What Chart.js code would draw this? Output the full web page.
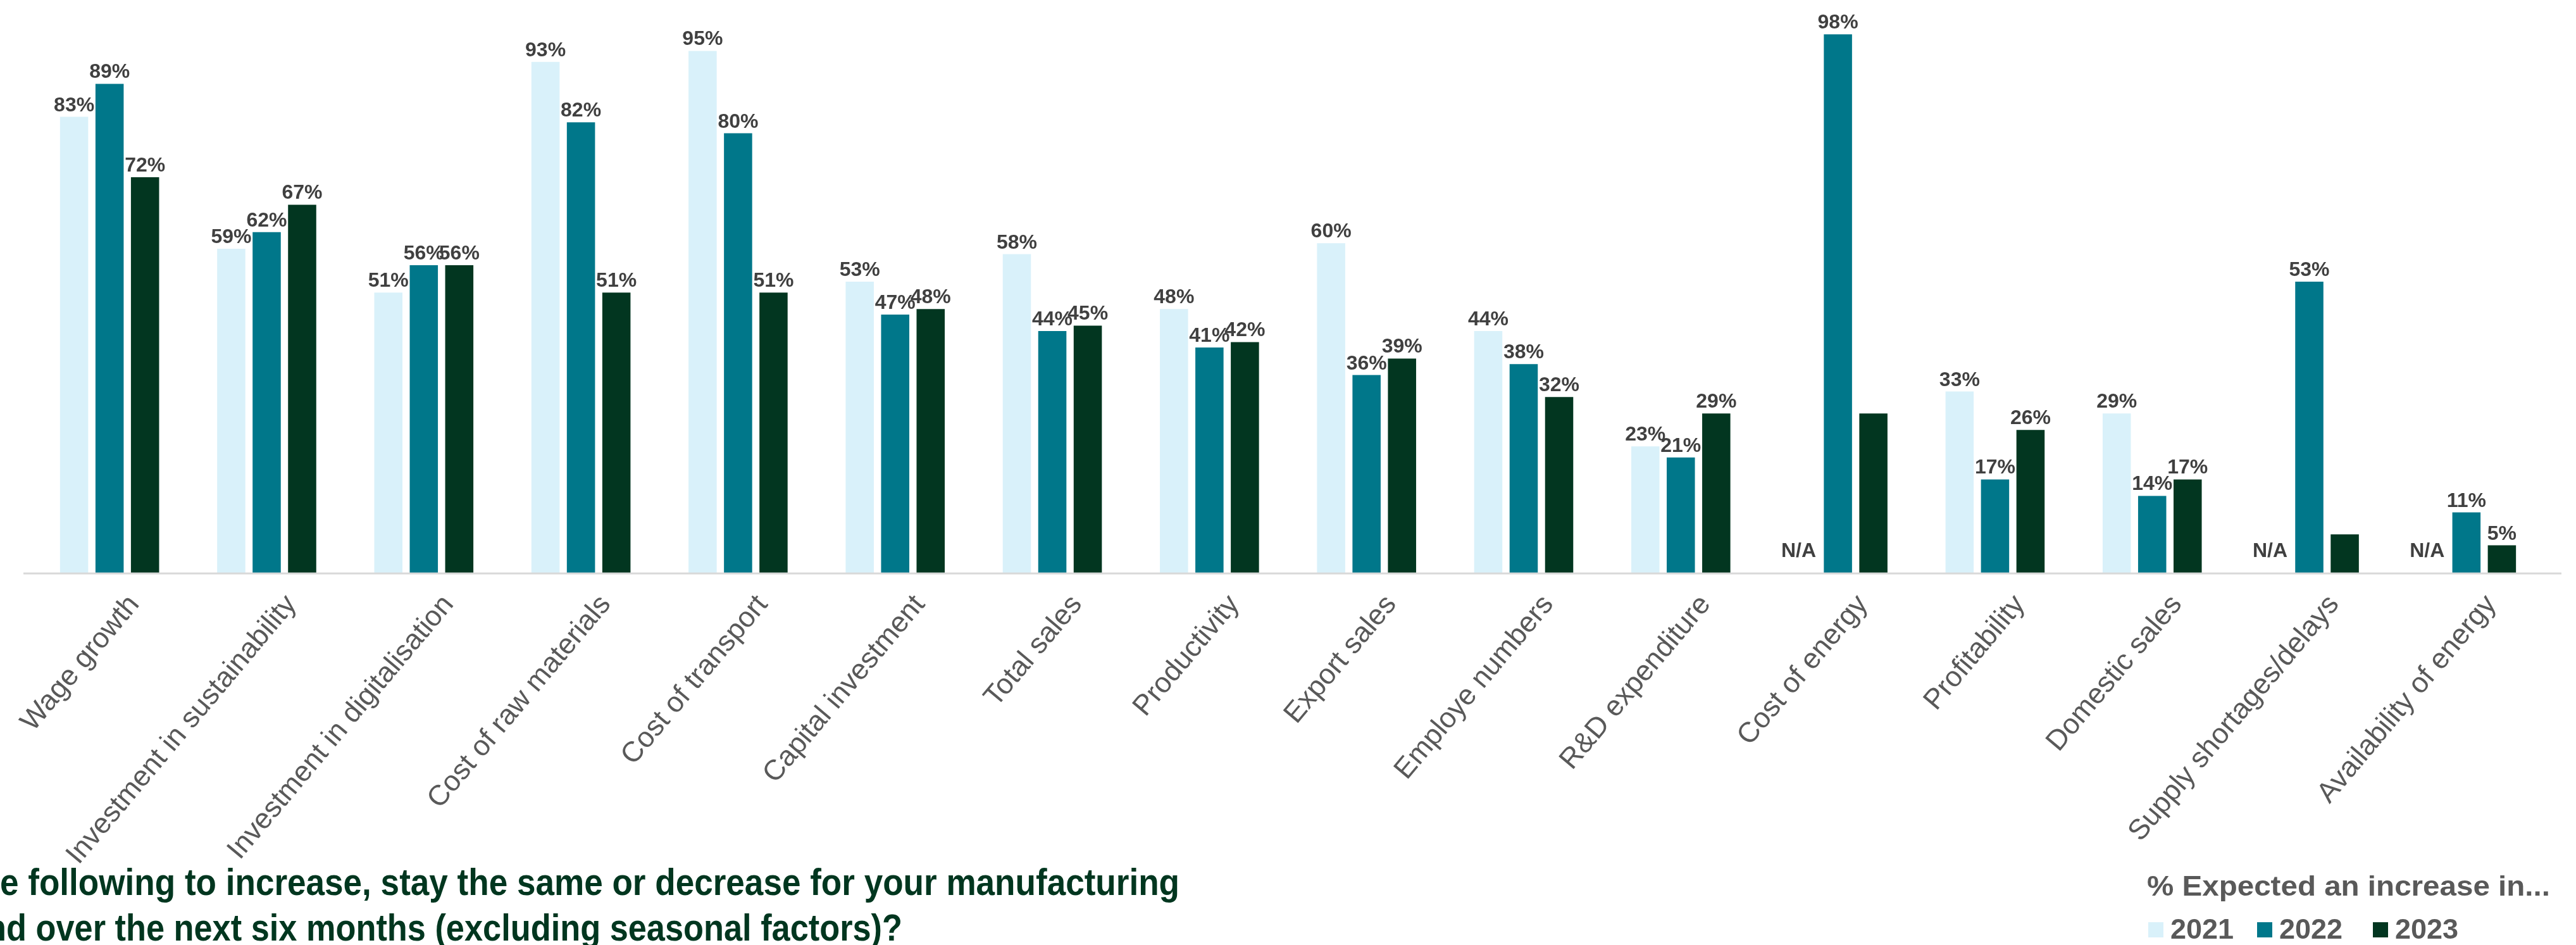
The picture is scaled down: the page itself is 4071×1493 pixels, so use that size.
<!DOCTYPE html>
<html>
<head>
<meta charset="utf-8">
<script src="https://cdn.jsdelivr.net/npm/chart.js@4.4.0/dist/chart.umd.min.js"></script>
<style>
  html, body { margin: 0; padding: 0; background: #fff; }
  #wrap { position: relative; width: 4071px; height: 1493px; overflow: hidden; }
  #chart { position: absolute; left: 0; top: 0; }
  .txt { position: absolute; white-space: nowrap; font-family: 'Liberation Sans', Arial, sans-serif;
         font-weight: bold; line-height: 1; transform-origin: 0 0; }
  .title { color: #00361f; font-size: 60px; }
  .legend { color: #595959; font-size: 45px; }
  .swatch { position: absolute; width: 24px; height: 24px; }
</style>
</head>
<body>
<div id="wrap">
  <canvas id="chart" width="4071" height="1493"></canvas>
  <div class="txt title" data-w="1864" style="left:0px; top:1364px;">e following to increase, stay the same or decrease for your manufacturing</div>
  <div class="txt title" data-w="1448" style="left:-22px; top:1436px;">nd over the next six months (excluding seasonal factors)?</div>
  <div class="txt legend" data-w="637" style="left:3393px; top:1377px;">% Expected an increase in...</div>
  <div id="legendRow"></div>
</div>
<script>
// categories and values (null = N/A)
const categories = ['Wage growth', 'Investment in sustainability', 'Investment in digitalisation',
  'Cost of raw materials', 'Cost of transport', 'Capital investment', 'Total sales', 'Productivity',
  'Export sales', 'Employe numbers', 'R&D expenditure', 'Cost of energy', 'Profitability',
  'Domestic sales', 'Supply shortages/delays', 'Availability of energy'];
const seriesNames = ['2021', '2022', '2023'];
const data2021 = [83, 59, 51, 93, 95, 53, 58, 48, 60, 44, 23, null, 33, 29, null, null];
const data2022 = [89, 62, 56, 82, 80, 47, 44, 41, 36, 38, 21, 98, 17, 14, 53, 11];
const data2023 = [72, 67, 56, 51, 51, 48, 45, 42, 39, 32, 29, 29, 26, 17, 7, 5];
// bars that carry no value label in the original (dataset index -> category indexes)
const unlabelled = { 2: [11, 14] };

const colors = ['#d9f1fa', '#00778a', '#023620'];

const barLabels = {
  id: 'barLabels',
  afterDatasetsDraw(chart) {
    const ctx = chart.ctx;
    const zeroY = chart.scales.y.getPixelForValue(0);
    ctx.save();
    ctx.font = 'bold 32px "Liberation Sans", Arial, sans-serif';
    ctx.fillStyle = '#404040';
    ctx.textAlign = 'center';
    ctx.textBaseline = 'alphabetic';
    chart.data.datasets.forEach((ds, di) => {
      chart.getDatasetMeta(di).data.forEach((bar, i) => {
        const v = ds.data[i];
        if (v === null) {
          ctx.fillText('N/A', bar.x - 6, zeroY - 25);
          return;
        }
        if (unlabelled[di] && unlabelled[di].includes(i)) return;
        ctx.fillText(v + '%', bar.x, bar.y - 9);
      });
    });
    ctx.restore();
  }
};

const baseLine = {
  id: 'baseLine',
  afterDatasetsDraw(chart) {
    const ctx = chart.ctx;
    const a = chart.chartArea;
    const y = chart.scales.y.getPixelForValue(0) + 1;
    ctx.save();
    ctx.strokeStyle = '#d9d9d9';
    ctx.lineWidth = 3;
    ctx.beginPath();
    ctx.moveTo(a.left - 12, y);
    ctx.lineTo(a.right + 26, y);
    ctx.stroke();
    ctx.restore();
  }
};

new Chart(document.getElementById('chart'), {
  type: 'bar',
  data: {
    labels: categories,
    datasets: [data2021, data2022, data2023].map((d, i) => ({
      label: seriesNames[i],
      data: d,
      backgroundColor: colors[i],
      borderWidth: 0,
      categoryPercentage: 0.677,
      barPercentage: 0.795
    }))
  },
  options: {
    responsive: false,
    animation: false,
    devicePixelRatio: 1,
    layout: { padding: { top: 37, left: 49, right: 49, bottom: 0 } },
    plugins: {
      legend: { display: false },
      tooltip: { enabled: false }
    },
    scales: {
      y: { display: false, min: 0, max: 100 },
      x: {
        grid: { display: false, drawTicks: false },
        border: { display: false },
        ticks: {
          autoSkip: false,
          minRotation: 50,
          maxRotation: 50,
          padding: 25,
          labelOffset: 39,
          color: '#595959',
          font: { family: "'Liberation Sans', Arial, sans-serif", size: 45 }
        },
        afterFit(scale) {
          scale.height = 588;
          scale.paddingLeft = 0;
          scale.paddingRight = 0;
        }
      }
    }
  },
  plugins: [barLabels, baseLine]
});

// legend row built from the series names and colours
const legendPos = [3395, 3567, 3750];
const row = document.getElementById('legendRow');
seriesNames.forEach((name, i) => {
  const sw = document.createElement('div');
  sw.className = 'swatch';
  sw.style.left = legendPos[i] + 'px';
  sw.style.top = '1457px';
  sw.style.background = colors[i];
  row.appendChild(sw);
  const t = document.createElement('div');
  t.className = 'txt legend';
  t.style.left = (legendPos[i] + 35) + 'px';
  t.style.top = '1445px';
  t.textContent = name;
  row.appendChild(t);
});

// squeeze texts to the widths they take in the original
document.querySelectorAll('[data-w]').forEach(el => {
  const w = el.getBoundingClientRect().width;
  el.style.transform = 'scaleX(' + (parseFloat(el.dataset.w) / w) + ')';
});
</script>
</body>
</html>
